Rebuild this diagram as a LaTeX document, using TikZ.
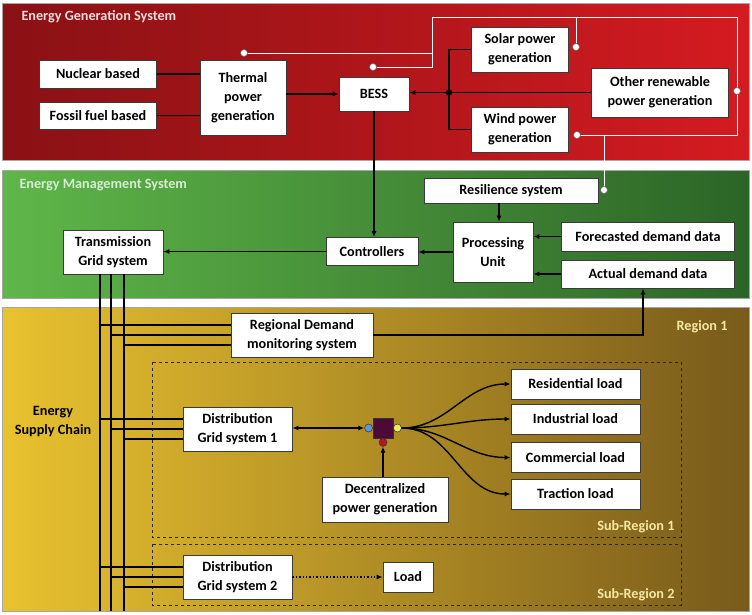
\documentclass[tikz,border=0pt]{standalone}
\usepackage{fontspec}
\setmainfont{Carlito}
\usepackage{tikz}
\usetikzlibrary{arrows.meta, positioning}
\definecolor{genDark}{HTML}{8A1114}
\definecolor{genLight}{HTML}{D41B21}
\definecolor{emsLight}{HTML}{5FB649}
\definecolor{emsDark}{HTML}{2C6527}
\definecolor{regLight}{HTML}{E9C22F}
\definecolor{regMid}{HTML}{C59C25}
\definecolor{regDark}{HTML}{785A1B}
\definecolor{boxEdge}{HTML}{3A3A3A}
\definecolor{hubPurple}{HTML}{4B0B36}
\definecolor{dotBlue}{HTML}{5B9BD5}
\definecolor{dotYellow}{HTML}{F2EE5A}
\definecolor{dotRed}{HTML}{B8161C}
\definecolor{tagYellow}{HTML}{F6E7A2}
\tikzset{
  blk/.style={draw=boxEdge, fill=white, line width=0.8pt, align=center,
    font=\fontsize{14.2}{19}\selectfont\bfseries, inner sep=1pt},
  arr/.style={line width=1.4pt, -{Latex[length=6pt,width=5pt]}},
  dblarr/.style={line width=1.4pt, {Latex[length=6pt,width=5pt]}-{Latex[length=6pt,width=5pt]}},
  wire/.style={line width=1.4pt},
  sig/.style={white, line width=0.7pt},
  port/.style={circle, draw=black!60, fill=white, line width=0.6pt, inner sep=0pt, minimum size=7pt},
  hubdot/.style={circle, draw=black!80, line width=0.5pt, inner sep=0pt, minimum size=8pt},
  paneltitle/.style={anchor=west, font=\fontsize{14.2}{16}\selectfont\bfseries},
  regiontag/.style={anchor=east, font=\fontsize{14.2}{16}\selectfont\bfseries, text=tagYellow},
  subregion/.style={draw=black!85, dashed, line width=0.8pt},
  panel/.style={draw=black!35, line width=0.8pt},
}

\begin{document}
\begin{tikzpicture}[x=1pt, y=-1pt]
  \useasboundingbox[fill=white] (0,0) rectangle (752,614);

  \shade[panel, left color=genDark, right color=genLight] (2,3) rectangle (749,160);
  \shade[panel, left color=emsLight, right color=emsDark] (2,170) rectangle (749,298);
  \shade[panel, left color=regLight, middle color=regMid, right color=regDark] (2,307) rectangle (749,611);

  \node[paneltitle, text=genDark!15!white] (gentitle) at (18,17) {Energy Generation System};
  \node[paneltitle, text=emsLight!25!white] (emstitle) at (16,185) {Energy Management System};
  \node[regiontag] (reg1) at (731,327) {Region 1};

  \draw[subregion] (152,362) rectangle (681,537);
  \draw[subregion] (152,544) rectangle (681,605);
  \node[regiontag] (sub1) at (678,527) {Sub-Region 1};
  \node[regiontag] (sub2) at (678,595) {Sub-Region 2};

  % generation
  \node[blk, minimum width=117pt, minimum height=28pt] (nuclear) at (98,74) {Nuclear based};
  \node[blk, minimum width=117pt, minimum height=27pt] (fossil) at (98,115.5) {Fossil fuel based};
  \node[blk, minimum width=86pt, minimum height=75pt] (thermal) at (243,97.5) {Thermal\\power\\generation};
  \node[blk, minimum width=70pt, minimum height=34pt] (bess) at (374,94) {BESS};
  \node[blk, minimum width=97pt, minimum height=45pt] (solar) at (520,49.5) {Solar power\\generation};
  \node[blk, minimum width=137pt, minimum height=49pt] (other) at (660,92.5) {Other renewable\\power generation};
  \node[blk, minimum width=97pt, minimum height=45pt] (wind) at (520,129.5) {Wind power\\generation};
  \coordinate (jn) at (449,92.5);

  \draw[wire] (nuclear.east) -- (nuclear.east -| thermal.west);
  \draw[wire] (fossil.east) -- (fossil.east -| thermal.west);
  \draw[arr] (thermal.east |- bess.west) -- (bess.west);
  \draw[wire] (solar.west) -| (jn) |- (wind.west);
  \draw[wire] (other.west) -- (jn);
  \draw[arr] (jn) -- (bess.east |- jn);
  \fill (jn) circle (3.2pt);

  % management
  \node[blk, minimum width=174pt, minimum height=25pt] (resilience) at (511,190.5) {Resilience system};
  \node[blk, minimum width=80pt, minimum height=60pt] (processing) at (493,252) {Processing\\Unit};
  \node[blk, minimum width=173pt, minimum height=29pt] (forecast) at (648,236.5) {Forecasted demand data};
  \node[blk, minimum width=173pt, minimum height=28pt] (actual) at (648,274) {Actual demand data};
  \node[blk, minimum width=92pt, minimum height=28pt] (controllers) at (372,251.5) {Controllers};
  \node[blk, minimum width=100pt, minimum height=44pt] (trans) at (113,252) {Transmission\\Grid system};

  \draw[arr] (bess.south) -- (bess.south |- controllers.north);
  \draw[arr] ([xshift=6pt]processing.north |- resilience.south) -- ([xshift=6pt]processing.north);
  \draw[arr] (forecast.west) -- (forecast.west -| processing.east);
  \draw[arr] (actual.west) -- (actual.west -| processing.east);
  \draw[arr] (processing.west) -- (processing.west -| controllers.east);
  \draw[arr] (controllers.west) -- (controllers.west -| trans.east);

  % region
  \node[blk, minimum width=142pt, minimum height=44pt] (regional) at (302,335) {Regional Demand\\monitoring system};
  \node[blk, minimum width=109pt, minimum height=44pt] (dist1) at (237.5,429) {Distribution\\Grid system 1};
  \node[blk, minimum width=109pt, minimum height=44pt] (dist2) at (237.5,577) {Distribution\\Grid system 2};
  \node[blk, minimum width=126pt, minimum height=45pt] (decent) at (385,499.5) {Decentralized\\power generation};
  \node[blk, minimum width=50pt, minimum height=30pt] (load) at (408,577) {Load};
  \node[blk, minimum width=129pt, minimum height=30pt] (res) at (575.5,384) {Residential load};
  \node[blk, minimum width=129pt, minimum height=30pt] (ind) at (575.5,419) {Industrial load};
  \node[blk, minimum width=129pt, minimum height=30pt] (com) at (575.5,457.5) {Commercial load};
  \node[blk, minimum width=129pt, minimum height=30pt] (tra) at (575.5,494) {Traction load};
  \node[align=center, font=\fontsize{14.2}{19}\selectfont\bfseries] (chain) at (53,422) {Energy\\Supply Chain};

  \node[draw=black!80, fill=hubPurple, minimum size=20pt, inner sep=0pt] (hub) at (383,428) {};
  \node[hubdot, fill=dotBlue, left=0pt of hub] (cin) {};
  \node[hubdot, fill=dotYellow, right=0pt of hub] (cout) {};
  \node[hubdot, fill=dotRed, below=0pt of hub] (cred) {};

  \foreach \dx [count=\i] in {-13,-2,11}
    \draw[wire] ([xshift=\dx pt]trans.south) coordinate (f\i) -- ++(0,337);
  \foreach \tgt in {regional,dist1,dist2} {
    \coordinate (\tgt-1) at ([yshift=10pt]\tgt.west);
    \coordinate (\tgt-2) at (\tgt.west);
    \coordinate (\tgt-3) at ([yshift=-10pt]\tgt.west);
    \foreach \i in {1,2,3}
      \draw[wire] (f\i |- \tgt-\i) -- (\tgt-\i);
  }

  \draw[arr] (regional.east) -| ([xshift=-5pt]actual.south);
  \draw[dblarr] (dist1.east |- cin) -- (cin.west);
  \draw[arr] (decent.north -| cred) -- (cred.south);
  \foreach \ld in {res,ind,com,tra}
    \draw[arr] (cout.east) to[out=0, in=180] (\ld.west);
  \draw[arr, dotted] (dist2.east) -- (load.west);

  % signal wiring
  \coordinate (pT) at (244,53);
  \coordinate (pB) at (373,67);
  \coordinate (pS) at (576,47);
  \coordinate (pO) at (737,91);
  \coordinate (pW) at (577,135);
  \coordinate (pR) at (604,190);
  \coordinate (bendL) at (432,17);
  \coordinate (bendR) at (737,17);
  \coordinate (tapR) at (604,135);
  \draw[sig] (pT) -| (bendL) -- (bendR) |- (pW);
  \draw[sig] (pB) -| (bendL);
  \draw[sig] (pS) -- (pS |- bendL);
  \draw[sig] (tapR) -- (pR);
  \foreach \p in {pT,pB,pS,pO,pW,pR}
    \node[port] at (\p) {};
\end{tikzpicture}
\end{document}
